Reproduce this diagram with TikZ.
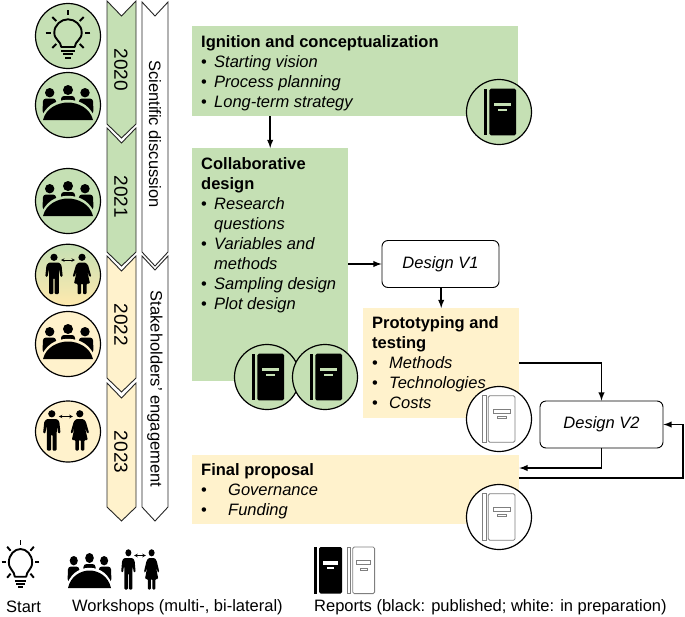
\documentclass[tikz,border=0pt]{standalone}
\usepackage{fontspec}
\setmainfont{Liberation Sans}
\usetikzlibrary{shapes.geometric}
\definecolor{stagegreen}{HTML}{C5E0B4}
\definecolor{stageyellow}{HTML}{FFF2CC}
\definecolor{stageamber}{HTML}{FFE9AE}
\definecolor{bookgray}{HTML}{7F7F7F}
\newcommand{\bul}[2]{\makebox[#1][l]{\textbullet}\textit{#2}}

\tikzset{
    stagebox/.style={rectangle, anchor=north west, inner sep=0pt},
    stagetext/.style={anchor=north west, inner sep=0pt, align=left, font=\fontsize{16.5}{20.1}\selectfont},
    designbox/.style={rectangle, draw, rounded corners=6pt, fill=white, line width=.9pt, inner sep=0pt, font=\fontsize{16.5}{20}\selectfont\itshape},
    iconring/.style={ellipse, draw, line width=1.2pt, inner sep=0pt, minimum width=65pt},
    yearband/.style={draw=black!85, line width=.9pt},
    bandtext/.style={rotate=-90, inner sep=0pt, font=\fontsize{16.5}{20}\selectfont},
    yeartext/.style={bandtext, font=\fontsize{19}{20}\selectfont},
    legendtext/.style={anchor=west, inner sep=0pt, font=\fontsize{16.5}{20}\selectfont},
    flowarrow/.style={-latex, line width=1.8pt},
    pics/bulb/.style={code={
        \draw[line width=1.9pt, line join=round] (-6.7,11) .. controls (-7,5) and (-13.7,4) .. (-13.7,-3.3)
            .. controls (-13.7,-11) and (-7,-16.7) .. (0,-16.7)
            .. controls (7,-16.7) and (13.7,-11) .. (13.7,-3.3)
            .. controls (13.7,4) and (7,5) .. (6.7,11) -- cycle;
        \draw[line width=1.9pt] (-6.7,15) -- (6.7,15);
        \draw[line width=1.9pt] (-5,18.3) -- (5,18.3);
        \draw[line width=1.9pt] (-2.7,21.7) -- (2.7,21.7);
        \draw[line width=1.9pt] (0,-25.7) -- (0,-20.7);
        \draw[line width=1.9pt] (-22.3,-3.3) -- (-16.7,-3.3);
        \draw[line width=1.9pt] (22.3,-3.3) -- (16.7,-3.3);
        \draw[line width=1.9pt] (-15.7,-19) -- (-11.7,-15);
        \draw[line width=1.9pt] (15.7,-19) -- (11.7,-15);
        \draw[line width=1.9pt] (-15.7,12) -- (-11.7,8);
        \draw[line width=1.9pt] (15.7,12) -- (11.7,8);
    }},
    pics/meeting/.style={code={
        \fill (-18.3,-12.3) circle(4.7);
        \fill (0,-15) circle(5);
        \fill (17,-12.3) circle(4.7);
        \fill[rounded corners=3pt] (-25.5,9) -- (-25,-6.5) -- (-12,-6.5) -- (-11,9) -- cycle;
        \fill[rounded corners=3pt] (25.5,9) -- (25,-6.5) -- (11,-6.5) -- (10,9) -- cycle;
        \fill[rounded corners=3pt] (-7,4) -- (-7,-9) -- (7,-9) -- (7,4) -- cycle;
        \fill[#1] (-27.5,16) .. controls (-24,1) and (-12,-5.2) .. (0,-5.2) .. controls (12,-5.2) and (24,1) .. (27.5,16) -- cycle;
        \fill (-25,15) .. controls (-22,3) and (-10,-2.5) .. (0,-2.5) .. controls (10,-2.5) and (22,3) .. (25,15) -- cycle;
    }},
    pics/pairtalk/.style={code={
        \fill (-14,-17.7) circle(3.6);
        \fill (14,-17.7) circle(3.6);
        \fill[shift={(-14,0)}, rounded corners=1pt] (-8.7,1.5) -- (-7.5,-10) -- (-5,-12.5) -- (5,-12.5) -- (7.5,-10) -- (8.7,1.5) -- (6.5,2) -- (5,-6) -- (4.8,19) -- (.7,19) -- (.7,3) -- (-.7,3) -- (-.7,19) -- (-4.8,19) -- (-5,-6) -- (-6.5,2) -- cycle;
        \fill[shift={(14,0)}, rounded corners=1pt] (-3.5,-12.5) -- (3.5,-12.5) -- (6,-10) -- (9.3,1.5) -- (7.5,2) -- (5,-5) -- (8,8.5) -- (4.5,8.5) -- (4.5,19) -- (1,19) -- (1,8.5) -- (-1,8.5) -- (-1,19) -- (-4.5,19) -- (-4.5,8.5) -- (-8,8.5) -- (-5,-5) -- (-7.5,2) -- (-9.3,1.5) -- (-6,-10) -- cycle;
        \draw[<->, >=stealth, line width=.6pt] (-7,-15) -- (7,-15);
    }},
    pics/bookblack/.style={code={
        \fill (-15.3,-23.3) rectangle (-12,23.3);
        \fill[rounded corners=1.5pt] (-9.7,-23.3) rectangle (17,23.3);
        \fill[#1] (-5,-9) rectangle (12,-5.7);
        \fill[#1] (-.7,-3) rectangle (8,-1);
    }},
    pics/bookwhite/.style={code={
        \draw[bookgray, line width=.8pt] (-16.7,-23.3) rectangle (-13,23.3);
        \draw[bookgray, line width=.8pt, rounded corners=1.5pt] (-10.7,-23.3) rectangle (16,23.3);
        \draw[bookgray, line width=.7pt] (-5.7,-9.7) rectangle (11,-5.7);
        \draw[bookgray, line width=.7pt] (-1.7,-2.3) rectangle (7,-.3);
    }},
}

\begin{document}
\begin{tikzpicture}[x=1pt, y=-1pt]
\useasboundingbox (0,0) rectangle (685,616);

% Bandas de los años
\foreach \a/\b/\col in {1/124/stagegreen, 128/252/stagegreen, 256/378/stageyellow, 383/507/stageyellow} {
    \draw[yearband, fill=\col] (107,\a) -- (121.5,\a+15) -- (136,\a) -- (136,\b) -- (121.5,\b+14) -- (107,\b) -- cycle;
}
\foreach \a/\b in {2/252, 256/507} {
    \draw[yearband] (142,\a) -- (155,\a+14) -- (168,\a) -- (168,\b) -- (155,\b+14) -- (142,\b) -- cycle;
}

% Etiquetas de las bandas
\foreach \name/\y/\txt in {year20/70/2020, year21/197/2021, year22/325/2022, year23/452/2023} {
    \node[yeartext] (\name) at (121,\y) {\txt};
}
\node[bandtext] (science) at (155,134) {Scientific discussion};
\node[bandtext] (stakeholders) at (155,389) {Stakeholders' engagement};

% Iconos de la columna
\node[iconring, fill=stagegreen, minimum height=65pt] (start) at (68,36) {};
\pic at (start.center) {bulb};
\foreach \name/\y in {meet20/105, meet21/201} {
    \node[iconring, fill=stagegreen, minimum height=65pt] (\name) at (68,\y) {};
    \pic at (\name.center) {meeting=stagegreen};
}
\node[iconring, top color=stagegreen, bottom color=stageamber, minimum height=61.5pt] (pair22) at (68,275) {};
\pic at (68,275) {pairtalk};
\node[iconring, fill=stageyellow, minimum height=65pt] (meet22) at (68,344) {};
\pic at (meet22.center) {meeting=stageyellow};
\node[iconring, fill=stageyellow, minimum height=61pt] (pair23) at (68,431.5) {};
\pic at (65.8,431.5) {pairtalk};

% Cajas
\node[stagebox, fill=stagegreen, minimum width=326pt, minimum height=90pt] (ignition) at (192,26) {};
\node[stagebox, fill=stagegreen, minimum width=156pt, minimum height=233pt] (collab) at (192,148) {};
\node[stagebox, fill=stageyellow, minimum width=156pt, minimum height=110pt] (proto) at (363,308) {};
\node[stagebox, fill=stageyellow, minimum width=327pt, minimum height=69pt] (final) at (192,455) {};
\node[designbox, minimum width=117pt, minimum height=47pt] (v1) at (440.5,264) {Design V1};
\node[designbox, minimum width=123pt, minimum height=47pt] (v2) at (601.5,424.5) {Design V2};

% Textos
\node[stagetext] (ignitiontxt) at (201,35) {\textbf{Ignition and conceptualization}\\
    \bul{13pt}{Starting vision}\\ \bul{13pt}{Process planning}\\ \bul{13pt}{Long-term strategy}};
\node[stagetext] (collabtxt) at (201,157) {\textbf{Collaborative}\\ \textbf{design}\\
    \bul{13pt}{Research}\\ \hspace*{13pt}\textit{questions}\\ \bul{13pt}{Variables and}\\ \hspace*{13pt}\textit{methods}\\
    \bul{13pt}{Sampling design}\\ \bul{13pt}{Plot design}};
\node[stagetext] (prototxt) at (372,316) {\textbf{Prototyping and}\\ \textbf{testing}\\
    \bul{17pt}{Methods}\\ \bul{17pt}{Technologies}\\ \bul{17pt}{Costs}};
\node[stagetext] (finaltxt) at (201,463) {\textbf{Final proposal}\\ \bul{27pt}{Governance}\\ \bul{27pt}{Funding}};

% Informes
\foreach \name/\x/\y in {rep20/499/112, rep21a/267/377, rep21b/325/377} {
    \node[iconring, fill=stagegreen, minimum height=65pt] (\name) at (\x,\y) {};
    \pic at (\name.center) {bookblack=stagegreen};
}
\foreach \name/\x/\y in {rep22/499/419, rep23/499/517} {
    \node[iconring, fill=white, minimum height=65pt] (\name) at (\x,\y) {};
    \pic at (\name.center) {bookwhite};
}

% Conexiones
\coordinate (finalin) at (final.east |- 0,468);
\coordinate (finalout) at (final.east |- 0,478);
\coordinate (rightturn) at (683,424.5);
\draw[flowarrow] (ignition.south -| collab.north) -- (collab.north);
\draw[flowarrow] (collab.east |- v1.west) -- (v1.west);
\draw[flowarrow] (proto.north |- v1.south) -- (proto.north);
\draw[flowarrow] (proto.east) -| (v2.north);
\draw[flowarrow] (v2.south) |- (finalin);
\draw[flowarrow] (finalout) -| (rightturn) -- (v2.east);

% Leyenda
\pic[xscale=.85] at (20.5,565.7) {bulb};
\pic[xscale=.86] at (89.5,573) {meeting=white};
\pic[xscale=.83] at (140,570.5) {pairtalk};
\pic[xscale=.86] at (327.5,570.3) {bookblack=white};
\pic[xscale=.82] at (361.5,570.3) {bookwhite};
\node[legendtext] (startlbl) at (6,607) {Start};
\node[legendtext] (workshoplbl) at (72,607) {Workshops (multi-, bi-lateral)};
\node[legendtext] (reportlbl) at (314,607) {Reports (black: published; white: in preparation)};

\end{tikzpicture}
\end{document}
